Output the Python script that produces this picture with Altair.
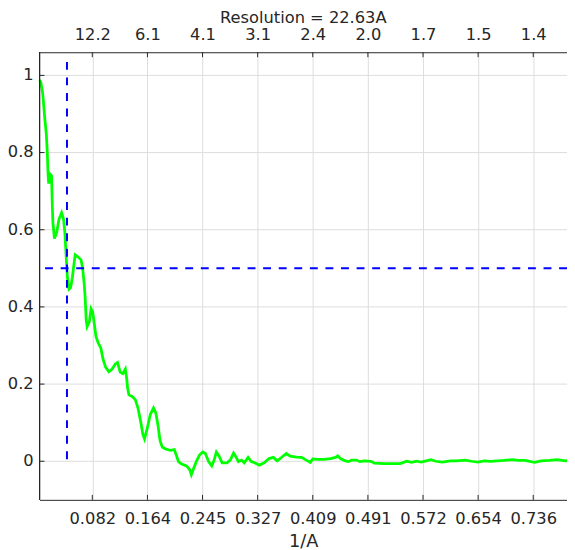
import altair as alt
import pandas as pd

# Spatial frequency (1/A) and FSC values
freq = [0.0035, 0.0054, 0.0079, 0.0093, 0.0112, 0.0136, 0.0151, 0.0161, 0.0169, 0.0190,
        0.0198, 0.0213, 0.0223, 0.0233, 0.0256, 0.0290, 0.0323, 0.0362, 0.0391, 0.0410,
        0.0424, 0.0434, 0.0449, 0.0472, 0.0496, 0.0521, 0.0544, 0.0564, 0.0602, 0.0651,
        0.0674, 0.0698, 0.0713, 0.0727, 0.0741, 0.0774, 0.0799, 0.0823, 0.0847, 0.0871,
        0.0904, 0.0943, 0.0976, 0.1015, 0.1063, 0.1112, 0.1159, 0.1192, 0.1231, 0.1270,
        0.1308, 0.1328, 0.1342, 0.1361, 0.1409, 0.1457, 0.1495, 0.1534, 0.1567, 0.1592,
        0.1630, 0.1678, 0.1726, 0.1760, 0.1793, 0.1822, 0.1855, 0.1904, 0.1976, 0.2034,
        0.2063, 0.2096, 0.2143, 0.2215, 0.2264, 0.2287, 0.2322, 0.2360, 0.2408, 0.2456,
        0.2495, 0.2543, 0.2590, 0.2625, 0.2658, 0.2697, 0.2744, 0.2816, 0.2864, 0.2913,
        0.2950, 0.2985, 0.3032, 0.3071, 0.3129, 0.3177, 0.3224, 0.3296, 0.3368, 0.3440,
        0.3504, 0.3561, 0.3633, 0.3695, 0.3753, 0.3849, 0.3921, 0.3993, 0.4051, 0.4089,
        0.4161, 0.4257, 0.4354, 0.4426, 0.4459, 0.4498, 0.4570, 0.4617, 0.4665, 0.4737,
        0.4786, 0.4858, 0.4953, 0.5002, 0.5146, 0.5290, 0.5386, 0.5482, 0.5554, 0.5626,
        0.5698, 0.5770, 0.5842, 0.5914, 0.6011, 0.6130, 0.6227, 0.6347, 0.6443, 0.6538,
        0.6635, 0.6731, 0.6826, 0.6923, 0.7043, 0.7139, 0.7236, 0.7380, 0.7475, 0.7596,
        0.7716, 0.7835, 0.7860]
fsc = [0.988, 0.982, 0.957, 0.931, 0.889, 0.847, 0.796, 0.745, 0.723, 0.723,
       0.743, 0.740, 0.670, 0.619, 0.577, 0.594, 0.627, 0.644, 0.627, 0.594,
       0.551, 0.518, 0.475, 0.446, 0.450, 0.475, 0.509, 0.535, 0.530, 0.522,
       0.500, 0.459, 0.420, 0.366, 0.349, 0.362, 0.395, 0.387, 0.357, 0.324,
       0.307, 0.294, 0.265, 0.244, 0.232, 0.239, 0.252, 0.256, 0.231, 0.227,
       0.239, 0.214, 0.189, 0.172, 0.168, 0.159, 0.138, 0.104, 0.070, 0.058,
       0.083, 0.121, 0.138, 0.125, 0.092, 0.054, 0.037, 0.032, 0.028, 0.030,
       0.016, -0.001, -0.007, -0.012, -0.022, -0.035, -0.018, -0.001, 0.016, 0.024,
       0.020, -0.001, -0.012, 0.003, 0.024, 0.014, -0.004, -0.004, 0.003, 0.021,
       0.011, -0.001, 0.003, -0.004, 0.010, -0.001, -0.004, -0.010, -0.004, 0.007,
       0.010, 0.001, 0.011, 0.020, 0.013, 0.011, 0.010, 0.003, -0.003, 0.006,
       0.005, 0.005, 0.007, 0.010, 0.014, 0.007, 0.001, -0.001, 0.003, 0.003,
       -0.001, 0.001, 0.000, -0.005, -0.006, -0.006, -0.006, 0.000, -0.003, 0.000,
       -0.002, 0.001, 0.004, 0.000, -0.002, 0.001, 0.001, 0.003, 0.000, -0.002,
       0.001, 0.000, 0.001, 0.002, 0.004, 0.002, 0.002, -0.003, 0.001, 0.002,
       0.004, 0.001, 0.002]

x_ticks = [0.08177, 0.16354, 0.24531, 0.32708, 0.40885, 0.49062, 0.57239, 0.65416, 0.73593]
y_ticks = [0.0, 0.2, 0.4, 0.6, 0.8, 1.0]
y_labels = ["0", "0.2", "0.4", "0.6", "0.8", "1"]
resolution = 22.63
threshold = 0.5
vline_top = 1.035

x_domain = [0.0035, 0.786]
y_domain = [-0.1, 1.06]

W, H = 535, 454
AX = "#262626"
GRID = "#dcdcdc"
FONT = "DejaVu Sans"
LABEL_SIZE = 16.5
DASH = [8, 7.8]

xs = alt.Scale(domain=x_domain, nice=False, zero=False)
ys = alt.Scale(domain=y_domain, nice=False, zero=False)

df = pd.DataFrame({"f": freq, "fsc": fsc})
ydf = pd.DataFrame({"yt": y_ticks, "lab": y_labels})
tick_df = pd.DataFrame({"t": x_ticks})

# horizontal grid lines and y labels
y_grid = alt.Chart(ydf).mark_rule(color=GRID, strokeWidth=1).encode(
    y=alt.Y("yt:Q", scale=ys, axis=None))
y_text = alt.Chart(ydf).mark_text(
    align="right", baseline="middle", dx=-6, font=FONT, fontSize=LABEL_SIZE, color=AX
).encode(y=alt.Y("yt:Q", scale=ys, axis=None), x=alt.value(0), text="lab:N")
left_domain = alt.Chart(ydf).mark_rule(color=AX, strokeWidth=1).encode(
    x=alt.value(0), y=alt.value(0), y2=alt.value(H))

curve = alt.Chart(df).mark_line(color="#00ff00", strokeWidth=2.8).encode(
    x=alt.X("f:Q", scale=xs, axis=alt.Axis(
        values=x_ticks, format=".3f", title="1/A", grid=True, ticks=False, tickSize=0,
        labelPadding=11, titleY=47, titleBaseline="alphabetic")),
    y=alt.Y("fsc:Q", scale=ys, axis=None),
)

hline = alt.Chart(pd.DataFrame({"h": [threshold]})).mark_rule(
    color="#0000ff", strokeWidth=2, strokeDash=DASH
).encode(y=alt.Y("h:Q", scale=ys, axis=None))

vline = alt.Chart(pd.DataFrame({"r": [1 / resolution], "v0": [vline_top], "v1": [0.0]})).mark_rule(
    color="#0000ff", strokeWidth=2, strokeDash=DASH
).encode(
    x=alt.X("r:Q", scale=xs, axis=alt.Axis(
        orient="top", values=x_ticks, labelExpr="format(1/datum.value, '.1f')",
        title="", grid=False, ticks=False, tickSize=0, labelPadding=9.5)),
    y=alt.Y("v0:Q", scale=ys, axis=None),
    y2="v1:Q",
)

bottom_ticks = alt.Chart(tick_df).mark_rule(color=AX, strokeWidth=1).encode(
    x=alt.X("t:Q", scale=xs, axis=None), y=alt.value(H), y2=alt.value(H - 5))
top_ticks = alt.Chart(tick_df).mark_rule(color=AX, strokeWidth=1).encode(
    x=alt.X("t:Q", scale=xs, axis=None), y=alt.value(0), y2=alt.value(5))
left_ticks = alt.Chart(ydf).mark_rule(color=AX, strokeWidth=1).encode(
    y=alt.Y("yt:Q", scale=ys, axis=None), x=alt.value(0), x2=alt.value(5))

chart = alt.layer(
    y_grid, curve, bottom_ticks, top_ticks, left_ticks, left_domain, y_text, hline, vline
).resolve_axis(
    x="independent"
).properties(
    width=W, height=H,
    autosize=alt.AutoSizeParams(type="none"),
    padding={"left": 32, "top": 41, "right": 0, "bottom": 47},
    title=alt.TitleParams(text="Resolution = 22.63A", fontSize=16.5, font=FONT,
                          fontWeight="normal", color=AX, anchor="middle", offset=1),
).configure_axis(
    domainColor=AX, domainWidth=1, labelColor=AX, labelFont=FONT, labelFontSize=LABEL_SIZE,
    titleColor=AX, titleFont=FONT, titleFontSize=18, titleFontWeight="normal",
    gridColor=GRID, gridWidth=1,
).configure_view(strokeWidth=0)

chart.save("out.html", embed_options={"renderer": "svg", "actions": False})
